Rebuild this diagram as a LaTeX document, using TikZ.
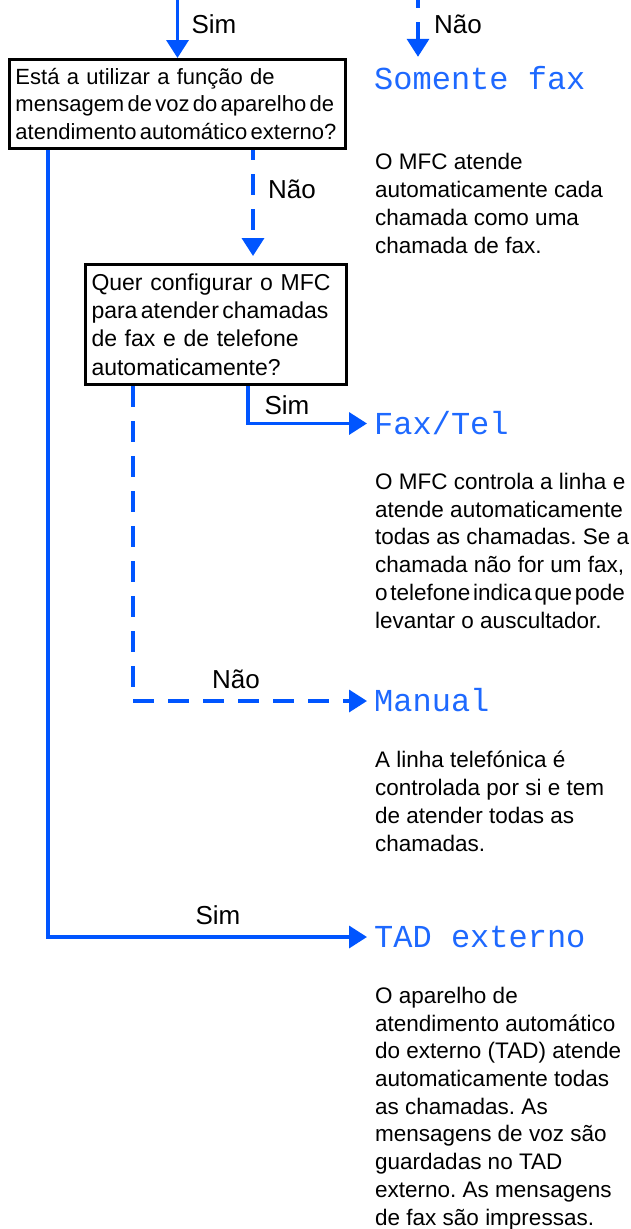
\documentclass[tikz,border=0pt]{standalone}
\usepackage{fontspec}
\setmainfont{Liberation Sans}
\newfontfamily\lcdfont{Liberation Mono}
\usetikzlibrary{positioning, calc}
\usetikzlibrary{arrows.meta}
\definecolor{flowblue}{RGB}{0,85,255}
\definecolor{lcdblue}{RGB}{30,105,255}
\frenchspacing

\begin{document}
\begin{tikzpicture}[x=1pt, y=-1pt,
    question/.style={draw=black, line width=3pt, rectangle, anchor=north west, align=left, inner ysep=0pt},
    lcd/.style={font=\lcdfont\fontsize{32}{32}\selectfont, text=lcdblue, anchor=west, inner xsep=7pt, inner ysep=0pt, text height=21pt, text depth=0pt},
    answer/.style={font=\fontsize{26}{30}\selectfont, anchor=base, inner sep=0pt},
    info/.style={font=\fontsize{22.5}{27.7}\selectfont, anchor=base west, align=left, inner sep=0pt},
    sim/.style={draw=flowblue, line width=3.5pt, -{Triangle[length=18pt, width=22pt]}},
    nao/.style={sim, dash pattern=on 21pt off 14pt}
]

    % Page frame
    \useasboundingbox (0,0) rectangle (630,1229);

    % Questions
    \node[question, font=\fontsize{22}{27.5}\selectfont, text width=324pt, inner xsep=6pt, minimum height=89pt] (q1) at (8,58)
        {Está a utilizar a função de\\ {\spaceskip=.15em\relax mensagem de voz do aparelho de}\\ {\spaceskip=.15em\relax atendimento automático externo?}};
    \node[question, font=\fontsize{23}{28.3}\selectfont, text width=249pt, inner xsep=6pt, minimum height=120pt] (q2) at (84,263)
        {Quer configurar o MFC\\ {\spaceskip=.15em\relax para atender chamadas}\\ de fax e de telefone\\ automaticamente?};

    % Modes
    \node[lcd] (somente) at (367,78.5) {Somente fax};
    \node[lcd] (faxtel) at (367,423.5) {Fax/Tel};
    \node[lcd] (manual) at (367,701) {Manual};
    \node[lcd] (tad) at (367,937) {TAD externo};

    % Mode descriptions (base = last line)
    \node[info] (txtsomente) at (375,253) {O MFC atende\\ automaticamente cada\\ chamada como uma\\ chamada de fax.};
    \node[info] (txtfaxtel) at (375,628) {O MFC controla a linha e\\ atende automaticamente\\ todas as chamadas. Se a\\ chamada não for um fax,\\ {\spaceskip=.12em\relax o telefone indica que pode}\\ levantar o auscultador.};
    \node[info] (txtmanual) at (375,851) {A linha telefónica é\\ controlada por si e tem\\ de atender todas as\\ chamadas.};
    \node[info] (txttad) at (375,1225) {O aparelho de\\ atendimento automático\\ do externo (TAD) atende\\ automaticamente todas\\ as chamadas. As\\ mensagens de voz são\\ guardadas no TAD\\ externo. As mensagens\\ de fax são impressas.};

    % Answers
    \node[answer] (simtop) at (214,33) {Sim};
    \node[answer] (naotop) at (458,33) {Não};
    \node[answer] (naoq1) at (292,198) {Não};
    \node[answer] (simq2) at (287,414) {Sim};
    \node[answer] (naoq2) at (236,688) {Não};
    \node[answer] (simq1) at (218,924) {Sim};

    % Flow lines
    \coordinate (insim) at (q1.north |- 0,0);
    \coordinate (innao) at (418,0);
    \draw[sim] (insim) -- (q1.north);
    \draw[nao, dash phase=13pt, shorten >=11pt] (innao) -- (innao |- somente.north);
    \draw[sim] ([xshift=40pt]q1.south west) |- (tad.west);
    \draw[nao, dash phase=11pt, shorten >=7pt] ([xshift=245pt]q1.south west) -- ([xshift=169pt]q2.north west);
    \draw[sim] ([xshift=164pt]q2.south west) |- (faxtel.west);
    \draw[nao] ([xshift=49pt]q2.south west) |- (manual.west);

\end{tikzpicture}
\end{document}
